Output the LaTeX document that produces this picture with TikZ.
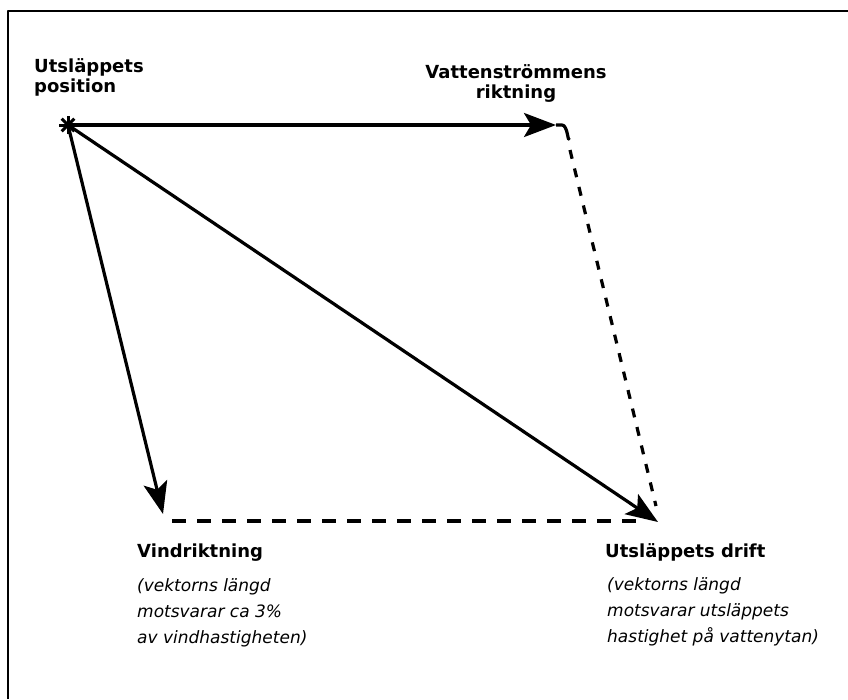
\documentclass[tikz,border=0pt]{standalone}
\usepackage{fontspec}
\setmainfont{DejaVu Sans}
\usetikzlibrary{arrows.meta,positioning}

\begin{document}
\begin{tikzpicture}[x=1pt, y=-1pt, line cap=butt, line join=round, >={Stealth[length=32pt,width=24pt,inset=7pt]},
    vec/.style={line width=3.2pt, ->},
    helpline/.style={line width=3.2pt, dash pattern=on 9pt off 10pt},
    title/.style={inner sep=0pt, align=left, font=\bfseries\fontsize{18}{20}\selectfont},
    note/.style={inner sep=0pt, align=left, font=\itshape\fontsize{17}{26}\selectfont}]
  \useasboundingbox (0,0) rectangle (848,699);
  % frame, only top and left edge
  \draw[line width=2pt] (8,699) -- (8,11) -- (848,11);

  \coordinate (origin) at (68,125);
  \coordinate (current) at (556,125);
  \coordinate (wind) at (163,514);
  \coordinate (drift) at (658,522);

  % release point
  \foreach \a in {0,45,90,135}
    \draw[line width=3pt] (origin) ++(\a:9) -- ++(\a+180:18);

  \draw[vec] (origin) -- (current);
  \draw[vec] (origin) -- (wind);
  \draw[vec] (origin) -- (drift);

  \draw[line width=3.2pt] (current) -- (562,125) to[out=0,in=-100] (569,138);
  \draw[helpline] (570,150) -- (656,506);
  \draw[line width=3.2pt, dash pattern=on 14pt off 11pt] (172,521) -- (640,521);

  \node[title, anchor=north west] (posText) at (34,58) {Utsläppets\\position};
  \node[title, anchor=north, align=center] (currText) at (516,64) {Vattenströmmens\\riktning};

  \node[title, anchor=base west] (windText) at (137,557) {Vindriktning};
  \node[note, below right=17pt and 0pt of windText.south west] (windNote)
    {(vektorns längd\\motsvarar ca 3\%\\av vindhastigheten)};

  \node[title, anchor=base west] (driftText) at (605,557) {Utsläppets drift};
  \node[note, below right=16pt and 2pt of driftText.south west] (driftNote)
    {(vektorns längd\\motsvarar utsläppets\\hastighet på vattenytan)};
\end{tikzpicture}
\end{document}
